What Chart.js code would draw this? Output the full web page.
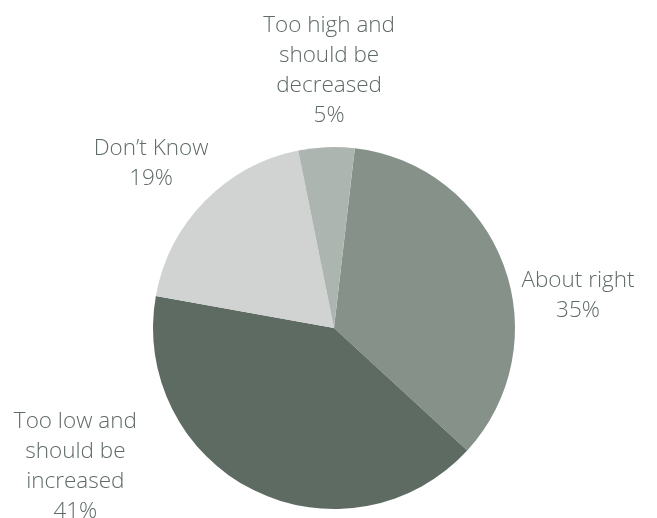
<!DOCTYPE html>
<html lang="en">
<head>
    <meta charset="UTF-8">
    <title>Survey - pie</title>
    <script src="https://cdn.jsdelivr.net/npm/chart.js"></script>
    <style>
        body {
            margin: 0;
            padding: 0;
            background: #fff;
        }
        .chart-box {
            width: 657px;
            height: 518px;
        }
    </style>
</head>
<body>
    <div class="chart-box">
        <canvas id="pieChart" width="657" height="518"></canvas>
    </div>

    <script>
        // answers, clockwise from just right of twelve o'clock
        const categories = [
            ['About right'],
            ['Too low and', 'should be', 'increased'],
            ['Don\u2019t Know'],
            ['Too high and', 'should be', 'decreased']
        ];
        const shares = [35, 41, 19, 5];
        const sliceColors = ['#869189', '#5e6b63', '#d0d3d1', '#adb5b0'];

        // where each label sits: distance from centre (in radii) and turn from slice middle (deg)
        const labelPlace = [
            { dist: 1.36, turn: 12.8 },
            { dist: 1.62, turn: 35.5 },
            { dist: 1.36, turn: -2.4 },
            { dist: 1.42, turn: 1.3 }
        ];

        const outsideLabels = {
            id: 'outsideLabels',
            afterDatasetsDraw(chart) {
                const ctx = chart.ctx;
                const arcs = chart.getDatasetMeta(0).data;
                const lineH = 30;
                ctx.save();
                ctx.font = '300 22.5px "Open Sans", sans-serif';
                ctx.fillStyle = '#5f6b65';
                ctx.textAlign = 'center';
                ctx.textBaseline = 'middle';
                arcs.forEach((arc, i) => {
                    const p = arc.getProps(['x', 'y', 'startAngle', 'endAngle', 'outerRadius'], true);
                    const mid = (p.startAngle + p.endAngle) / 2 + labelPlace[i].turn * Math.PI / 180;
                    const r = p.outerRadius * labelPlace[i].dist;
                    const cx = p.x + Math.cos(mid) * r;
                    const cy = p.y + Math.sin(mid) * r;
                    const lines = categories[i].concat([shares[i] + '%']);
                    const top = cy - (lines.length - 1) * lineH / 2;
                    lines.forEach((t, k) => ctx.fillText(t, cx, top + k * lineH));
                });
                ctx.restore();
            }
        };

        new Chart(document.getElementById('pieChart'), {
            type: 'pie',
            data: {
                labels: categories.map(c => c.join(' ')),
                datasets: [{
                    data: shares,
                    backgroundColor: sliceColors,
                    borderWidth: 0
                }]
            },
            options: {
                responsive: false,
                animation: false,
                rotation: 6.6,
                layout: {
                    padding: { top: 147, bottom: 9, left: 153, right: 142 }
                },
                plugins: {
                    legend: { display: false },
                    tooltip: { enabled: false }
                }
            },
            plugins: [outsideLabels]
        });
    </script>
</body>
</html>
